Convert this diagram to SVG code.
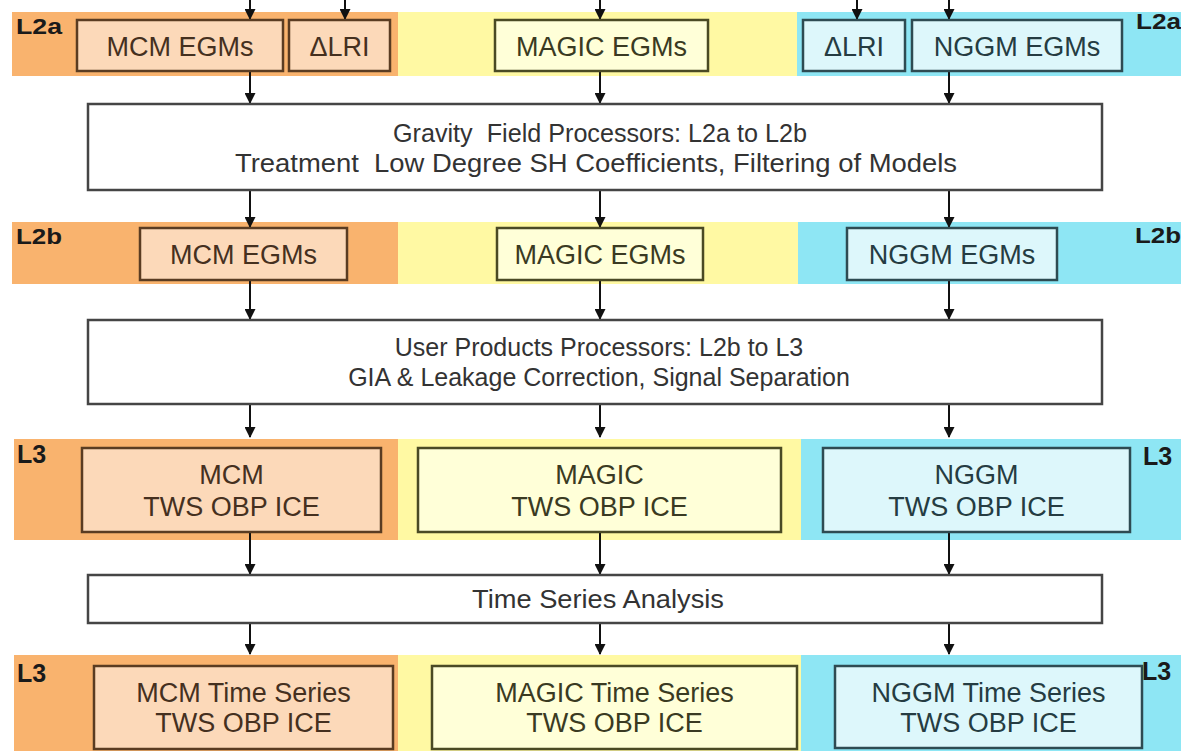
<svg xmlns="http://www.w3.org/2000/svg" width="1181" height="751" viewBox="0 0 1181 751">
<defs>
<marker id="ah" markerWidth="11" markerHeight="11" refX="10" refY="5.5" orient="auto" markerUnits="userSpaceOnUse" viewBox="0 0 11 11">
<path d="M0,0 L11,5.5 L0,11 Z" fill="#111"/>
</marker>
<style>
.bo{fill:#F9B36E}
.by{fill:#FFF9A3}
.bc{fill:#8EE6F4}
.no{fill:#FCD9B9;stroke:#5A3C22;stroke-width:2.5}
.ny{fill:#FFFFD8;stroke:#4A4A24;stroke-width:2.5}
.nc{fill:#DDF7FB;stroke:#2E4B52;stroke-width:2.5}
.np{fill:#FFFFFF;stroke:#454545;stroke-width:2.5}
text{font-family:"Liberation Sans",Arial,sans-serif;text-anchor:middle}
.t{font-size:27px}
.to{fill:#45301F}
.ty{fill:#3A3A22}
.tc{fill:#253C42}
.tp{font-size:25px;fill:#333333;white-space:pre}
.lv{font-size:22px;font-weight:bold;fill:#1A1A1A;text-anchor:start}
.lv3{font-size:25px;font-weight:bold;fill:#1A1A1A;text-anchor:start}
.cn{stroke:#111;stroke-width:2;fill:none;marker-end:url(#ah)}
</style>
</defs>
<rect width="1181" height="751" fill="#FFFFFF"/>
<g id="bands">
<rect class="bo" x="12" y="12" width="386" height="64"/>
<rect class="by" x="398" y="12" width="399" height="64"/>
<rect class="bc" x="797" y="12" width="384" height="64"/>
<rect class="bo" x="12" y="222" width="386" height="62"/>
<rect class="by" x="398" y="222" width="400" height="62"/>
<rect class="bc" x="798" y="222" width="383" height="62"/>
<rect class="bo" x="14" y="439" width="384" height="101"/>
<rect class="by" x="398" y="439" width="403" height="101"/>
<rect class="bc" x="801" y="439" width="380" height="101"/>
<rect class="bo" x="14" y="655" width="384" height="96"/>
<rect class="by" x="398" y="655" width="403" height="96"/>
<rect class="bc" x="801" y="655" width="380" height="96"/>
</g>
<g id="level-labels">
<text class="lv" x="16" y="34" textLength="46" lengthAdjust="spacingAndGlyphs">L2a</text>
<text class="lv" x="1136" y="29" textLength="45" lengthAdjust="spacingAndGlyphs">L2a</text>
<text class="lv" x="16" y="244" textLength="46" lengthAdjust="spacingAndGlyphs">L2b</text>
<text class="lv" x="1135" y="243" textLength="46" lengthAdjust="spacingAndGlyphs">L2b</text>
<text class="lv3" x="17" y="463">L3</text>
<text class="lv3" x="1143" y="465">L3</text>
<text class="lv3" x="17" y="682">L3</text>
<text class="lv3" x="1142" y="680">L3</text>
</g>
<g id="connectors">
<line class="cn" x1="250" y1="0" x2="250" y2="19"/>
<line class="cn" x1="345" y1="0" x2="345" y2="19"/>
<line class="cn" x1="600" y1="0" x2="600" y2="19"/>
<line class="cn" x1="857" y1="0" x2="857" y2="19"/>
<line class="cn" x1="949" y1="0" x2="949" y2="19"/>
<line class="cn" x1="250" y1="71" x2="250" y2="103"/>
<line class="cn" x1="600" y1="71" x2="600" y2="103"/>
<line class="cn" x1="949" y1="71" x2="949" y2="103"/>
<line class="cn" x1="250" y1="190" x2="250" y2="227"/>
<line class="cn" x1="600" y1="190" x2="600" y2="227"/>
<line class="cn" x1="949" y1="190" x2="949" y2="227"/>
<line class="cn" x1="250" y1="280" x2="250" y2="319"/>
<line class="cn" x1="600" y1="280" x2="600" y2="319"/>
<line class="cn" x1="949" y1="280" x2="949" y2="319"/>
<line class="cn" x1="250" y1="404" x2="250" y2="437"/>
<line class="cn" x1="600" y1="404" x2="600" y2="437"/>
<line class="cn" x1="949" y1="404" x2="949" y2="437"/>
<line class="cn" x1="250" y1="532" x2="250" y2="574"/>
<line class="cn" x1="600" y1="532" x2="600" y2="574"/>
<line class="cn" x1="949" y1="532" x2="949" y2="574"/>
<line class="cn" x1="250" y1="623" x2="250" y2="654"/>
<line class="cn" x1="600" y1="623" x2="600" y2="654"/>
<line class="cn" x1="949" y1="623" x2="949" y2="654"/>
</g>
<g id="mcm-egms-l2a"><rect class="no" x="77" y="20" width="206" height="51"/><text class="t to" x="180" y="56">MCM EGMs</text></g>
<g id="dlri-mcm"><rect class="no" x="289" y="20" width="101" height="51"/><text class="t to" x="339.5" y="56">ΔLRI</text></g>
<g id="magic-egms-l2a"><rect class="ny" x="495" y="20" width="213" height="51"/><text class="t ty" x="601.5" y="56">MAGIC EGMs</text></g>
<g id="dlri-nggm"><rect class="nc" x="803" y="20" width="102" height="51"/><text class="t tc" x="854" y="56">ΔLRI</text></g>
<g id="nggm-egms-l2a"><rect class="nc" x="912" y="20" width="210" height="51"/><text class="t tc" x="1017" y="56">NGGM EGMs</text></g>
<g id="gravity-proc"><rect class="np" x="88" y="104" width="1014" height="86"/>
<text class="tp" x="600" y="142" textLength="414" lengthAdjust="spacingAndGlyphs">Gravity  Field Processors: L2a to L2b</text>
<text class="tp" x="596" y="172" textLength="722" lengthAdjust="spacingAndGlyphs">Treatment  Low Degree SH Coefficients, Filtering of Models</text></g>
<g id="mcm-egms-l2b"><rect class="no" x="140" y="228" width="207" height="52"/><text class="t to" x="243.5" y="264">MCM EGMs</text></g>
<g id="magic-egms-l2b"><rect class="ny" x="497" y="228" width="206" height="52"/><text class="t ty" x="600" y="264">MAGIC EGMs</text></g>
<g id="nggm-egms-l2b"><rect class="nc" x="847" y="228" width="210" height="52"/><text class="t tc" x="952" y="264">NGGM EGMs</text></g>
<g id="user-proc"><rect class="np" x="88" y="320" width="1014" height="84"/>
<text class="tp" x="599" y="356">User Products Processors: L2b to L3</text>
<text class="tp" x="599" y="386">GIA &amp; Leakage Correction, Signal Separation</text></g>
<g id="mcm-l3"><rect class="no" x="82" y="448" width="299" height="84"/>
<text class="t to" x="231.5" y="484">MCM</text><text class="t to" x="231.5" y="516">TWS OBP ICE</text></g>
<g id="magic-l3"><rect class="ny" x="418" y="448" width="363" height="84"/>
<text class="t ty" x="599.5" y="484">MAGIC</text><text class="t ty" x="599.5" y="516">TWS OBP ICE</text></g>
<g id="nggm-l3"><rect class="nc" x="823" y="448" width="307" height="84"/>
<text class="t tc" x="976.5" y="484">NGGM</text><text class="t tc" x="976.5" y="516">TWS OBP ICE</text></g>
<g id="tsa"><rect class="np" x="88" y="575" width="1014" height="48"/>
<text class="tp" x="598" y="608" textLength="252" lengthAdjust="spacingAndGlyphs">Time Series Analysis</text></g>
<g id="mcm-ts"><rect class="no" x="94" y="666" width="299" height="83"/>
<text class="t to" x="243.5" y="702">MCM Time Series</text><text class="t to" x="243.5" y="732">TWS OBP ICE</text></g>
<g id="magic-ts"><rect class="ny" x="432" y="666" width="365" height="83"/>
<text class="t ty" x="614.5" y="702">MAGIC Time Series</text><text class="t ty" x="614.5" y="732">TWS OBP ICE</text></g>
<g id="nggm-ts"><rect class="nc" x="835" y="666" width="307" height="82"/>
<text class="t tc" x="988.5" y="702">NGGM Time Series</text><text class="t tc" x="988.5" y="732">TWS OBP ICE</text></g>
</svg>
